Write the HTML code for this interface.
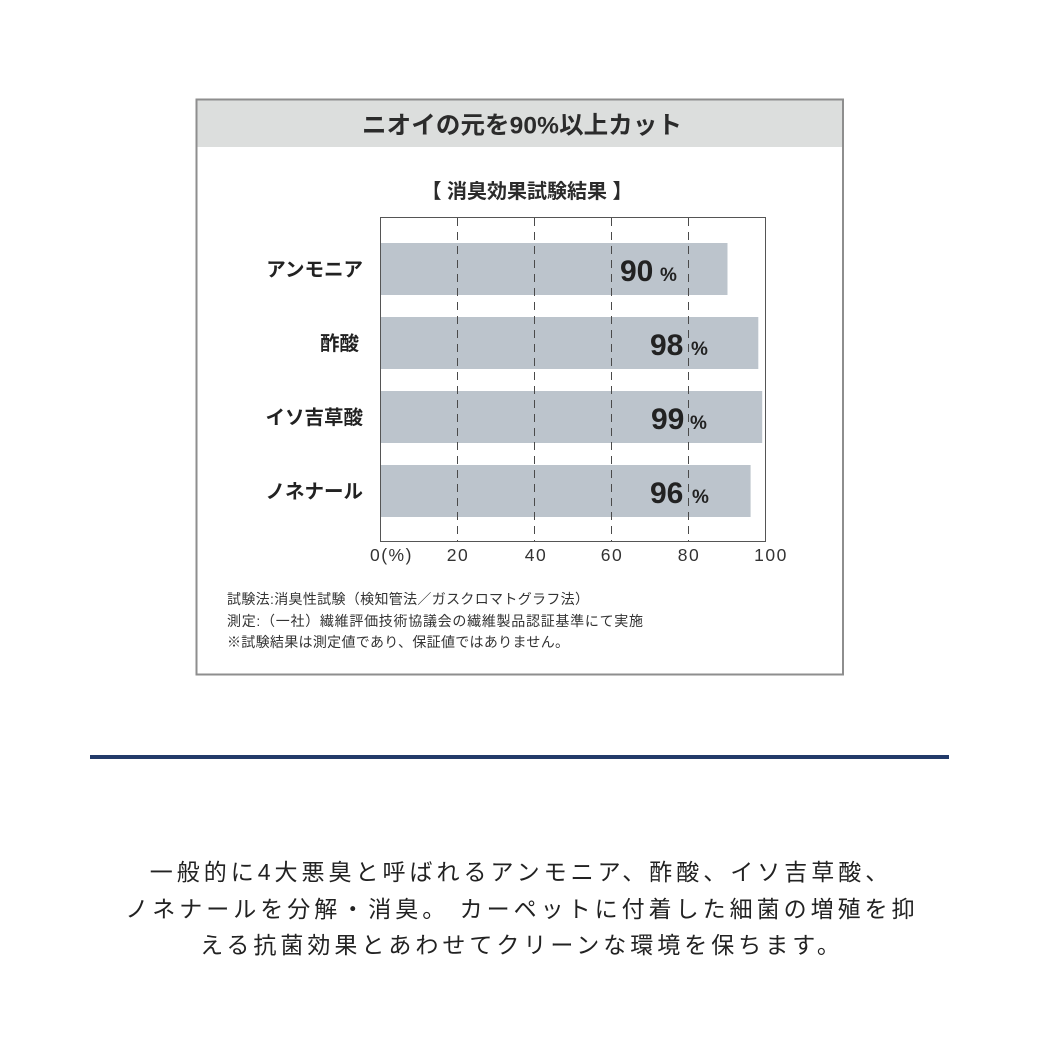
<!DOCTYPE html>
<html>
<head>
<meta charset="utf-8">
<style>
  html, body { margin: 0; padding: 0; background: #ffffff; }
  body { width: 1040px; height: 1040px; overflow: hidden; }
  svg { display: block; }
  .jp { font-family: "Liberation Sans", "Noto Sans CJK JP", sans-serif; }
  .num { font-family: "Liberation Sans", sans-serif; }
</style>
</head>
<body>
<svg width="1040" height="1040" viewBox="0 0 1040 1040" xmlns="http://www.w3.org/2000/svg">
  <rect x="0" y="0" width="1040" height="1040" fill="#ffffff"/>

  <!-- outer box -->
  <rect x="196.5" y="99.5" width="646.5" height="575" fill="#ffffff" stroke="#8e8e8e" stroke-width="2"/>
  <!-- header band -->
  <rect x="197.5" y="100.5" width="644.5" height="46.5" fill="#dcdedd"/>
  <text class="jp" x="522" y="133.5" text-anchor="middle" font-size="24.5" font-weight="bold" fill="#2b2b2b" textLength="320" lengthAdjust="spacing">ニオイの元を90%以上カット</text>

  <!-- chart subtitle -->
  <text class="jp" x="527" y="198" text-anchor="middle" font-size="20" font-weight="bold" fill="#2b2b2b">【 消臭効果試験結果 】</text>

  <!-- bars -->
  <rect x="381" y="243" width="346.5" height="52" fill="#bcc4cc"/>
  <rect x="381" y="317" width="377.3" height="52" fill="#bcc4cc"/>
  <rect x="381" y="391" width="381.2" height="52" fill="#bcc4cc"/>
  <rect x="381" y="465" width="369.6" height="52" fill="#bcc4cc"/>

  <!-- gridlines -->
  <g stroke="#4a4a4a" stroke-width="1" stroke-dasharray="8,6">
    <line x1="457.5" y1="218" x2="457.5" y2="541"/>
    <line x1="534.5" y1="218" x2="534.5" y2="541"/>
    <line x1="611.5" y1="218" x2="611.5" y2="541"/>
    <line x1="688.5" y1="218" x2="688.5" y2="541"/>
  </g>

  <!-- plot frame -->
  <rect x="380.5" y="217.5" width="385" height="324" fill="none" stroke="#555555" stroke-width="1"/>

  <!-- category labels -->
  <g class="jp" font-size="19.5" font-weight="bold" fill="#222222" text-anchor="end">
    <text x="363" y="276">アンモニア</text>
    <text x="359" y="350">酢酸</text>
    <text x="363" y="424">イソ吉草酸</text>
    <text x="363" y="498">ノネナール</text>
  </g>

  <!-- value labels -->
  <g class="num" fill="#222222" font-weight="bold">
    <text x="620" y="281" font-size="30">90</text>
    <text x="660" y="281" font-size="19">%</text>
    <text x="650" y="355" font-size="30">98</text>
    <text x="691" y="355" font-size="19">%</text>
    <text x="651" y="429" font-size="30">99</text>
    <text x="690" y="429" font-size="19">%</text>
    <text x="650" y="503" font-size="30">96</text>
    <text x="692" y="503" font-size="19">%</text>
  </g>

  <!-- tick labels -->
  <g class="num" font-size="17.5" fill="#333333" letter-spacing="1.5">
    <text x="370" y="561">0(%)</text>
    <text x="458" y="561" text-anchor="middle">20</text>
    <text x="536" y="561" text-anchor="middle">40</text>
    <text x="612" y="561" text-anchor="middle">60</text>
    <text x="689" y="561" text-anchor="middle">80</text>
    <text x="771" y="561" text-anchor="middle">100</text>
  </g>

  <!-- footnotes -->
  <g class="jp" font-size="14" fill="#333333">
    <text x="227" y="604" textLength="362" lengthAdjust="spacing">試験法:消臭性試験（検知管法／ガスクロマトグラフ法）</text>
    <text x="227" y="626" textLength="416" lengthAdjust="spacing">測定:（一社）繊維評価技術協議会の繊維製品認証基準にて実施</text>
    <text x="227" y="647" textLength="342" lengthAdjust="spacing">※試験結果は測定値であり、保証値ではありません。</text>
  </g>

  <!-- navy rule -->
  <rect x="90" y="755" width="859" height="4" fill="#223a69"/>

  <!-- paragraph -->
  <g class="jp" font-size="23" fill="#222222" text-anchor="middle" letter-spacing="4">
    <text x="521" y="880">一般的に4大悪臭と呼ばれるアンモニア、酢酸、イソ吉草酸、</text>
    <text x="522" y="917">ノネナールを分解・消臭。 カーペットに付着した細菌の増殖を抑</text>
    <text x="522" y="953">える抗菌効果とあわせてクリーンな環境を保ちます。</text>
  </g>
</svg>
</body>
</html>
